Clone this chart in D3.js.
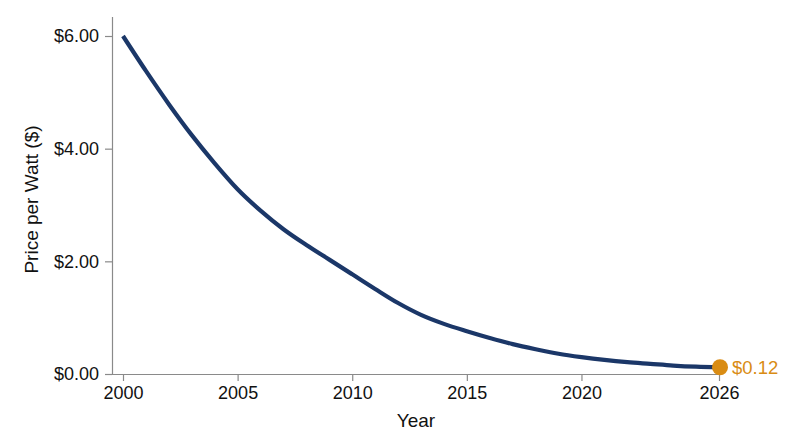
<!DOCTYPE html>
<html lang="en">
<head>
<meta charset="UTF-8">
<title>Price per Watt</title>
<script src="https://d3js.org/d3.v7.min.js"></script>
<style>
  body { margin: 0; background: #fff; }
  svg { display: block; font-family: "Liberation Sans", Arial, sans-serif; }
  .axis path, .axis line { stroke: #8a8a8a; stroke-width: 1.2px; }
  .axis text { font-size: 18px; fill: #111; }
  .title { font-size: 19px; fill: #111; }
</style>
</head>
<body>
<svg width="800" height="447"></svg>
<script>
// data
const years = [2000, 2001, 2002, 2003, 2004, 2005, 2006, 2007, 2008, 2009, 2010, 2011, 2012, 2013,
               2014, 2015, 2016, 2017, 2018, 2019, 2020, 2021, 2022, 2023, 2024, 2025, 2026];
const prices = [6.00, 5.38, 4.79, 4.24, 3.74, 3.28, 2.90, 2.57, 2.29, 2.03, 1.77, 1.51, 1.26, 1.05,
                0.89, 0.76, 0.64, 0.53, 0.44, 0.36, 0.30, 0.25, 0.21, 0.18, 0.15, 0.13, 0.12];
const xTicks = [2000, 2005, 2010, 2015, 2020, 2026];
const yTicks = [0, 2, 4, 6];
const endLabel = "$0.12";

const svg = d3.select("svg");
const plotLeft = 112, plotRight = 720, plotTop = 17, plotBottom = 374;

const x = d3.scaleLinear().domain([2000, 2026]).range([123, 719]);
const y = d3.scaleLinear().domain([0, 6]).range([plotBottom, 36]);

// x axis
const xAxis = svg.append("g")
    .attr("class", "axis")
    .attr("transform", `translate(0,${plotBottom})`)
    .call(d3.axisBottom(x).tickValues(xTicks).tickFormat(d3.format("d")).tickSize(7).tickPadding(5).tickSizeOuter(0));
xAxis.select(".domain").attr("d", `M${plotLeft},0.5H${plotRight}`);

// y axis
const yAxis = svg.append("g")
    .attr("class", "axis")
    .attr("transform", `translate(${plotLeft},0)`)
    .call(d3.axisLeft(y).tickValues(yTicks).tickFormat(d => "$" + d3.format(".2f")(d)).tickSize(7).tickPadding(6).tickSizeOuter(0));
yAxis.select(".domain").attr("d", `M0.5,${plotTop}V${plotBottom}`);

// axis titles
svg.append("text")
    .attr("class", "title")
    .attr("x", (plotLeft + plotRight) / 2)
    .attr("y", 427)
    .attr("text-anchor", "middle")
    .text("Year");

svg.append("text")
    .attr("class", "title")
    .attr("transform", `translate(38,${(plotTop + plotBottom) / 2 + 4}) rotate(-90)`)
    .attr("text-anchor", "middle")
    .text("Price per Watt ($)");

// line
const pts = years.map((yr, i) => [yr, prices[i]]);
const line = d3.line()
    .x(d => x(d[0]))
    .y(d => y(d[1]))
    .curve(d3.curveMonotoneX);

svg.append("path")
    .datum(pts)
    .attr("d", line)
    .attr("fill", "none")
    .attr("stroke", "#1b3768")
    .attr("stroke-width", 4.2)
    .attr("stroke-linecap", "butt");

// end point marker + label
const last = pts[pts.length - 1];
svg.append("circle")
    .attr("cx", x(last[0]) + 1)
    .attr("cy", y(last[1]))
    .attr("r", 8)
    .attr("fill", "#d98c14");

svg.append("text")
    .attr("x", x(last[0]) + 13)
    .attr("y", y(last[1]) + 6.5)
    .attr("font-size", 18.5)
    .attr("fill", "#d98c14")
    .text(endLabel);
</script>
</body>
</html>
